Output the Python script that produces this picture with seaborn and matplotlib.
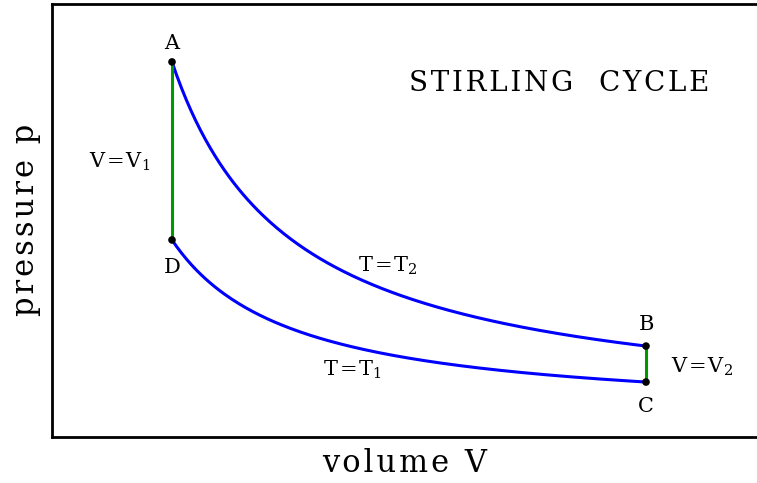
import numpy as np
import pandas as pd
import matplotlib
matplotlib.use("Agg")
import matplotlib.pyplot as plt
import seaborn as sns

# ── cycle states (volume, pressure) ───────────────────────────────────────
state_names = ["A", "B", "C", "D"]
volumes     = [1.0, 4.95, 4.95, 1.0]
pressures   = [5.0, 5.0 / 4.95, 2.5 / 4.95, 2.5]
isotherm_labels = ["T=T$_2$", "T=T$_1$"]
isochore_labels = ["V=V$_1$", "V=V$_2$"]

HAIR = "\u200a"


def spaced(s, gap=HAIR):
    # wide letter spacing like the original typesetting
    return gap.join(s)


def eq(s):
    return s.replace("=", HAIR + "=" + HAIR)


def main():
    sns.set_theme(style="white")
    plt.rcParams["font.family"] = ["DejaVu Serif"]
    plt.rcParams["mathtext.fontset"] = "dejavuserif"
    plt.rcParams["text.color"] = "black"
    plt.rcParams["axes.labelcolor"] = "black"

    fig = plt.figure(figsize=(7.57, 4.83), dpi=100)
    ax = fig.add_axes([0.0687, 0.0952, 0.9313, 0.8975])

    # ── isotherms A→B (T2) and C→D (T1): p V = const ─────────────────────
    vv = np.linspace(volumes[0], volumes[1], 200)
    hot  = pd.DataFrame({"V": vv, "p": pressures[0] * volumes[0] / vv})
    cold = pd.DataFrame({"V": vv, "p": pressures[3] * volumes[3] / vv})
    sns.lineplot(data=hot, x="V", y="p", color="#0000ff", lw=2.2, ax=ax)
    sns.lineplot(data=cold, x="V", y="p", color="#0000ff", lw=2.2, ax=ax)

    # ── isochores D→A (V1) and B→C (V2) ──────────────────────────────────
    ax.plot([volumes[3], volumes[0]], [pressures[3], pressures[0]], color="#009900", lw=2.2)
    ax.plot([volumes[1], volumes[2]], [pressures[1], pressures[2]], color="#009900", lw=2.2)

    states = pd.DataFrame({"V": volumes, "p": pressures, "name": state_names})
    sns.scatterplot(data=states, x="V", y="p", color="black", s=30, zorder=5,
                    edgecolor="none", ax=ax)

    # ── labels ────────────────────────────────────────────────────────────
    fs = 15
    ax.text(volumes[0], pressures[0] + 0.26, "A", ha="center", va="center", fontsize=fs)
    ax.text(volumes[3], pressures[3] - 0.39, "D", ha="center", va="center", fontsize=fs)
    ax.text(volumes[1], pressures[1] + 0.30, "B", ha="center", va="center", fontsize=fs)
    ax.text(volumes[2], pressures[2] - 0.35, "C", ha="center", va="center", fontsize=fs)
    ax.text(0.567, 3.60, eq(isochore_labels[0]), ha="center", va="center", fontsize=fs)
    ax.text(5.42, 0.72, eq(isochore_labels[1]), ha="center", va="center", fontsize=fs)
    ax.text(2.80, 2.13, eq(isotherm_labels[0]), ha="center", va="center", fontsize=fs)
    ax.text(2.50, 0.68, eq(isotherm_labels[1]), ha="center", va="center", fontsize=fs)
    ax.text(4.23, 4.70, spaced("STIRLING  CYCLE"), ha="center", va="center",
            fontsize=20)

    ax.set_xlim(0, 5.875)
    ax.set_ylim(-0.267, 5.82)
    ax.set_xticks([])
    ax.set_yticks([])
    ax.set_xlabel(spaced("volume V"), fontsize=22, labelpad=8)
    ax.set_ylabel(spaced("pressure p"), fontsize=22, labelpad=8)

    for side in ["left", "bottom", "top"]:
        ax.spines[side].set_color("black")
        ax.spines[side].set_linewidth(2)
    ax.spines["right"].set_visible(False)

    fig.savefig("out.png", dpi=100)


if __name__ == "__main__":
    main()
